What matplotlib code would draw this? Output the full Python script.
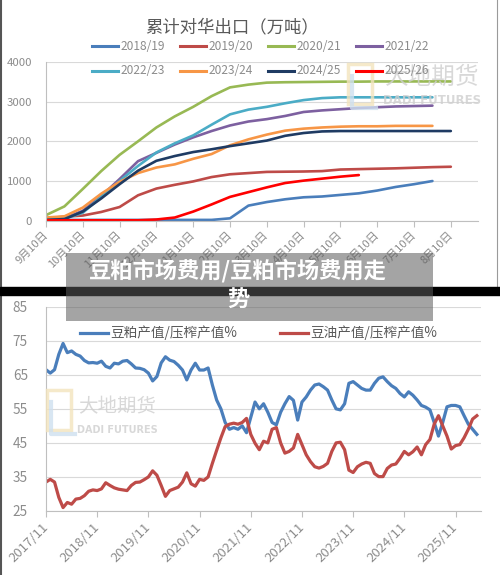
import numpy as np
import matplotlib.pyplot as plt
from matplotlib.lines import Line2D
from matplotlib.patches import Rectangle

plt.rcParams['font.family'] = ['Noto Sans CJK SC', 'DejaVu Sans']

# ---- top chart: cumulative exports to China (10k t), half-month steps from 9/10
seasons = ['2018/19', '2019/20', '2020/21', '2021/22',
           '2022/23', '2023/24', '2024/25', '2025/26']
season_colors = ['#4a7ebb', '#be4b48', '#98b954', '#7d60a0',
                 '#4bacc6', '#f79646', '#1f3b63', '#ff0000']
month_labels = ['9月10日', '10月10日', '11月10日', '12月10日', '1月10日', '2月10日',
                '3月10日', '4月10日', '5月10日', '6月10日', '7月10日', '8月10日']

exp_1819 = [20, 20, 20, 20, 20, 20, 20, 20, 20, 20, 60, 380, 470, 540, 590,
            610, 650, 690, 760, 850, 920, 1000]
exp_1920 = [60, 100, 130, 220, 345, 640, 810, 905, 990, 1100, 1170, 1200,
            1230, 1235, 1240, 1250, 1290, 1300, 1310, 1320, 1335, 1350, 1360]
exp_2021 = [140, 360, 800, 1250, 1660, 2000, 2350, 2630, 2870, 3140, 3360,
            3430, 3480, 3490, 3495, 3500, 3505, 3505, 3510, 3510, 3510, 3510, 3510]
exp_2122 = [50, 60, 250, 620, 1050, 1500, 1710, 1920, 2100, 2260, 2400, 2500,
            2560, 2640, 2740, 2780, 2810, 2840, 2860, 2880, 2890, 2900]
exp_2223 = [40, 50, 200, 600, 1000, 1380, 1720, 1950, 2150, 2420, 2680, 2800,
            2870, 2960, 3040, 3090, 3110, 3110, 3110, 3110, 3110, 3110]
exp_2324 = [80, 110, 330, 680, 980, 1200, 1340, 1420, 1560, 1680, 1900, 2050,
            2170, 2270, 2320, 2350, 2370, 2380, 2380, 2390, 2390, 2390]
exp_2425 = [20, 40, 230, 560, 920, 1260, 1510, 1630, 1730, 1800, 1880, 1950,
            2020, 2140, 2210, 2250, 2260, 2260, 2260, 2260, 2260, 2260, 2260]
exp_2526 = [10, 10, 10, 10, 10, 10, 30, 80, 230, 410, 600, 720, 840, 950,
            1010, 1060, 1110, 1150]
exports = [exp_1819, exp_1920, exp_2021, exp_2122,
           exp_2223, exp_2324, exp_2425, exp_2526]

# ---- bottom chart: value shares, monthly from 2017/11
year_labels = ['2017/11', '2018/11', '2019/11', '2020/11', '2021/11',
               '2022/11', '2023/11', '2024/11', '2025/11']
meal_share = [66.5, 65.5, 66.5, 71.0, 74.2, 71.5, 72.0, 71.0, 70.5, 69.2, 68.5, 68.6,
              68.4, 69.0, 67.5, 67.0, 68.4, 68.2, 69.0, 69.2, 68.2, 67.0, 66.9, 66.5,
              65.5, 63.2, 64.5, 68.5, 70.3, 69.3, 68.9, 67.8, 66.4, 63.5, 66.4, 68.4,
              66.4, 66.4, 67.0, 62.0, 57.6, 55.0, 51.0, 49.0, 49.5, 49.0, 50.0, 48.0,
              52.5, 57.0, 55.0, 56.5, 54.0, 51.0, 50.3, 54.0, 56.5, 58.6, 57.5, 51.7,
              57.0, 58.5, 60.5, 62.0, 62.3, 61.5, 60.5, 57.6, 55.0, 54.7, 56.5, 62.5,
              63.0, 62.0, 61.0, 60.5, 60.5, 62.5, 64.0, 64.4, 63.0, 61.8, 61.0, 59.5,
              58.5, 60.0, 59.0, 57.6, 56.0, 55.5, 54.7, 51.0, 47.0, 51.0, 55.6, 56.0,
              56.0, 55.6, 53.0, 50.5, 49.0, 47.5]
oil_share = [33.5, 34.3, 33.5, 29.0, 26.0, 27.5, 27.0, 28.5, 28.7, 29.5, 30.8, 31.2,
             31.0, 31.5, 33.3, 32.5, 31.8, 31.4, 31.2, 31.0, 32.5, 33.4, 33.5, 34.2,
             35.0, 36.8, 35.5, 32.5, 29.3, 31.0, 31.5, 32.0, 33.5, 36.2, 33.0, 32.3,
             34.3, 34.0, 35.0, 39.0, 42.8, 46.5, 49.8, 50.5, 50.8, 50.5, 51.0, 52.2,
             47.5, 44.9, 43.0, 45.5, 45.0, 49.0, 49.5, 45.0, 42.0, 42.5, 43.5, 47.5,
             44.5, 41.5, 39.5, 38.0, 37.6, 38.1, 39.0, 42.5, 45.0, 45.2, 43.0, 37.0,
             36.3, 38.0, 38.8, 39.3, 39.0, 36.0, 35.1, 35.1, 37.5, 38.5, 38.8, 40.5,
             42.5, 41.5, 42.4, 43.8, 41.5, 44.5, 46.0, 50.5, 53.0, 50.0, 47.0, 43.2,
             44.2, 44.5, 46.5, 49.0, 52.0, 53.0]

W, H = 500, 575
fig = plt.figure(figsize=(5, 5.75), dpi=100)
fig.patch.set_facecolor('white')

def fx(px):
    return px / W

def fy(py):
    return 1 - py / H

label_c = '#8c8c8c'
grid_c = '#d9d9d9'
text_c = '#595959'

# ---------------- top chart
ax1 = fig.add_axes([fx(46), fy(220.7), fx(477.7 - 46), (220.7 - 62) / H])
for vals, col in zip(exports, season_colors):
    x = np.arange(len(vals)) * 0.5
    ax1.plot(x, vals, color=col, lw=1.9, solid_capstyle='round')
ax1.set_xlim(0, 11.73)
ax1.set_ylim(0, 4000)
ax1.set_yticks(range(0, 4001, 1000))
ax1.set_xticks(range(12))
ax1.set_xticklabels(month_labels, fontsize=8, color=label_c)
plt.setp(ax1.get_xticklabels(), rotation=45, ha='right', va='center',
         rotation_mode='anchor')
ax1.tick_params(axis='y', length=0, pad=10, labelsize=8.2, labelcolor=label_c)
ax1.tick_params(axis='x', length=4, color='#bfbfbf', pad=5)
ax1.grid(axis='y', color=grid_c, lw=0.8)
ax1.set_axisbelow(True)
for s in ['top', 'right']:
    ax1.spines[s].set_visible(False)
ax1.spines['left'].set_color('#bfbfbf')
ax1.spines['bottom'].set_color('#bfbfbf')

fig.text(fx(232), fy(27), '累计对华出口（万吨）', ha='center', va='center',
         fontsize=12.5, color=text_c)
for i, (name, col) in enumerate(zip(seasons, season_colors)):
    row, c = divmod(i, 4)
    x0 = 92 + 88 * c
    yy = 46 + 25 * row
    fig.add_artist(Line2D([fx(x0), fx(x0 + 26)], [fy(yy), fy(yy)],
                          color=col, lw=2.2, zorder=5))
    fig.text(fx(x0 + 29), fy(yy), name, ha='left', va='center',
             fontsize=8.6, color='#8c8c8c', zorder=5)

# ---------------- bottom chart
ax2 = fig.add_axes([fx(46), fy(511), fx(480.7 - 46), (511 - 306.7) / H])
m = np.arange(len(meal_share))
ax2.plot(m, meal_share, color='#4a7ebb', lw=2.3)
ax2.plot(m, oil_share, color='#be4b48', lw=2.3)
ax2.set_xlim(0, 101.9)
ax2.set_ylim(25, 85)
ax2.set_yticks(range(25, 86, 10))
ax2.set_xticks(range(0, 97, 12))
ax2.set_xticklabels(year_labels, fontsize=9.5, color=label_c)
plt.setp(ax2.get_xticklabels(), rotation=45, ha='right', va='center',
         rotation_mode='anchor')
ax2.tick_params(axis='y', length=0, pad=13, labelsize=9.8, labelcolor=label_c)
ax2.tick_params(axis='x', length=4, color='#bfbfbf', pad=6)
ax2.grid(axis='y', color=grid_c, lw=0.8)
ax2.set_axisbelow(True)
for s in ['top', 'right']:
    ax2.spines[s].set_visible(False)
ax2.spines['left'].set_color('#bfbfbf')
ax2.spines['bottom'].set_color('#bfbfbf')

for x0, col, name in [(80, '#4a7ebb', '豆粕产值/压榨产值%'),
                      (280, '#be4b48', '豆油产值/压榨产值%')]:
    fig.add_artist(Line2D([fx(x0), fx(x0 + 28)], [fy(333), fy(333)],
                          color=col, lw=2.3, zorder=5))
    fig.text(fx(x0 + 30), fy(333), name, ha='left', va='center',
             fontsize=9.8, color=text_c, zorder=5)

# ---------------- watermarks
for (ix, iy, tx, ty1, ty2, fs) in [(348, 64, 432, 77, 101, 17),
                                   (47, 390, 117, 407, 430, 14)]:
    fig.add_artist(Rectangle((fx(ix), fy(iy + 40)), fx(24), 40 / H, fill=False,
                             ec='#f3e4bd', lw=2.5, alpha=0.8, zorder=1))
    fig.add_artist(Line2D([fx(ix + 4), fx(ix + 4), fx(ix + 28)],
                          [fy(iy + 12), fy(iy + 44), fy(iy + 44)],
                          color='#cfe0ef', lw=3, alpha=0.8, zorder=1))
    fig.text(fx(tx), fy(ty1), '大地期货', ha='center', va='center',
             fontsize=fs, color='#cfcfcf', alpha=0.8, zorder=1)
    fig.text(fx(tx), fy(ty2), 'DADI FUTURES', ha='center', va='center',
             fontsize=fs * 0.5, color='#cfcfcf', alpha=0.8, fontweight='bold',
             family=['DejaVu Sans'], zorder=1)

# ---------------- frame lines, dark band and overlay caption
fig.add_artist(Line2D([fx(1), fx(1)], [0, 1], color='#555555', lw=1.5))
fig.add_artist(Line2D([fx(497), fx(497)], [fy(287), 1], color='#9a9a9a', lw=0.8))
fig.add_artist(Rectangle((0, fy(295)), 1, 8 / H, color='black', zorder=8))
fig.add_artist(Rectangle((fx(66), fy(321)), fx(433 - 66), (321 - 252.7) / H,
                         color='#5a5a5a', alpha=0.55, lw=0, zorder=9))
fig.text(fx(238), fy(271), '豆粕市场费用/豆粕市场费用走', ha='center', va='center',
         fontsize=16, color='white', fontweight='bold', zorder=10)
fig.text(fx(238), fy(300), '势', ha='center', va='center',
         fontsize=16, color='white', fontweight='bold', zorder=10)

fig.savefig('out.png', dpi=100, facecolor='white')
